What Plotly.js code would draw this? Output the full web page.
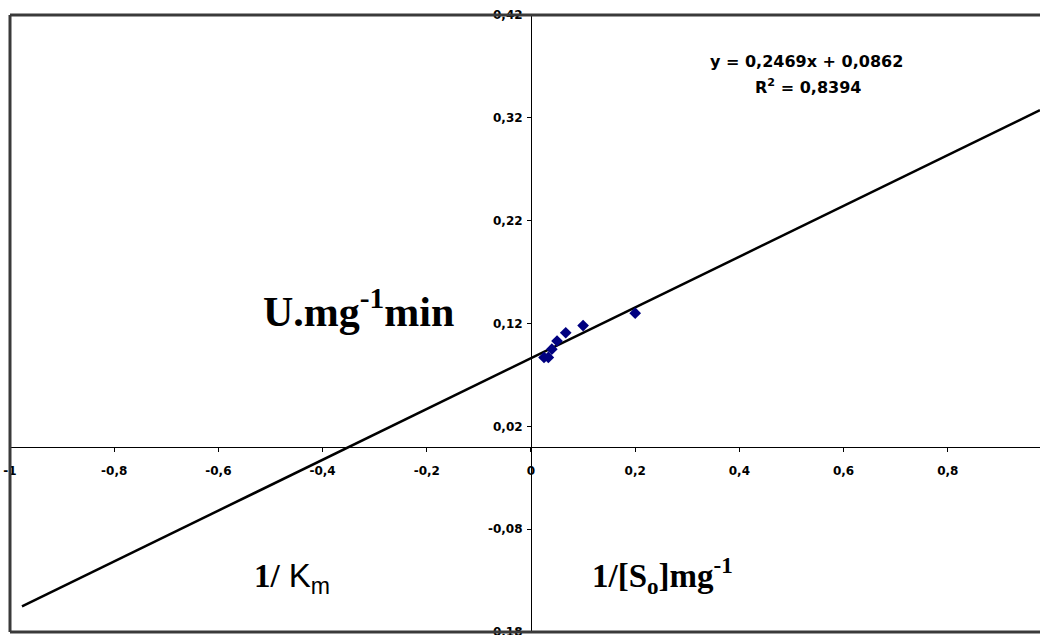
<!DOCTYPE html>
<html>
<head>
<meta charset="utf-8">
<script src="https://cdn.plot.ly/plotly-3.0.1.min.js"></script>
<style>html,body{margin:0;padding:0;background:#fff;}#chart{width:1040px;height:635px;}</style>
</head>
<body>
<div id="chart"></div>
<script>
// Data (Lineweaver-Burk plot)
const invS = [0.025, 0.0333, 0.04, 0.05, 0.0667, 0.1, 0.2];
const invV = [0.087, 0.087, 0.095, 0.103, 0.111, 0.118, 0.130];
// Trendline as reported: y = 0,2469x + 0,0862
const slope = 0.2469;
const intercept = 0.0862;
const trendX = [-0.977, 0.977];
const xTickVals = [-1, -0.8, -0.6, -0.4, -0.2, 0, 0.2, 0.4, 0.6, 0.8];
const xTickText = ['-1', '-0,8', '-0,6', '-0,4', '-0,2', '0', '0,2', '0,4', '0,6', '0,8'];
const yTickVals = [-0.18, -0.08, 0.02, 0.12, 0.22, 0.32, 0.42];
const yTickText = ['-0,18', '-0,08', '0,02', '0,12', '0,22', '0,32', '0,42'];

const xRange = [-1, 0.977];
const yRange = [-0.18, 0.42];

const trendY = trendX.map(x => slope * x + intercept);

const tickFont = {family: 'DejaVu Sans', size: 12, color: '#000', weight: 'bold'};

const data = [
  {x: trendX, y: trendY, mode: 'lines', line: {color: '#000', width: 2.5}, hoverinfo: 'skip', cliponaxis: true},
  {x: invS, y: invV, mode: 'markers', marker: {symbol: 'diamond', size: 9, color: '#000080'}}
];

const layout = {
  width: 1040, height: 635,
  margin: {l: 10, r: 0, t: 15, b: 3, pad: 0},
  paper_bgcolor: '#fff', plot_bgcolor: '#fff',
  showlegend: false,
  separators: ',.',
  xaxis: {
    range: xRange, anchor: 'free', position: (0 - yRange[0]) / (yRange[1] - yRange[0]),
    showgrid: false, zeroline: false, showline: true, linecolor: '#000', linewidth: 1,
    tickmode: 'array', tickvals: xTickVals, ticktext: xTickText,
    ticks: 'outside', ticklen: 4, tickcolor: '#000', tickwidth: 1,
    tickfont: tickFont, ticklabeloverflow: 'allow', ticklabelstandoff: 9
  },
  yaxis: {
    range: yRange, anchor: 'free', position: (0 - xRange[0]) / (xRange[1] - xRange[0]),
    showgrid: false, zeroline: false, showline: true, linecolor: '#000', linewidth: 1,
    tickmode: 'array', tickvals: yTickVals, ticktext: yTickText,
    ticks: 'outside', ticklen: 4, tickcolor: '#000', tickwidth: 1,
    tickfont: tickFont, ticklabeloverflow: 'allow', ticklabelstandoff: 2
  },
  shapes: [
    {type: 'line', xref: 'paper', yref: 'paper', x0: 0, x1: 1.01, y0: 1, y1: 1, line: {color: '#3a3a3a', width: 3}},
    {type: 'line', xref: 'paper', yref: 'paper', x0: 0, x1: 1.01, y0: 0, y1: 0, line: {color: '#3a3a3a', width: 3}},
    {type: 'line', xref: 'paper', yref: 'paper', x0: 0, x1: 0, y0: 0, y1: 1, line: {color: '#3a3a3a', width: 3}}
  ],
  annotations: [
    {x: 0.528, y: 0.375, xref: 'x', yref: 'y', text: 'y = 0,2469x + 0,0862', showarrow: false,
     font: {family: 'DejaVu Sans', size: 16, color: '#000', weight: 'bold'}},
    {x: 0.532, y: 0.350, xref: 'x', yref: 'y', text: 'R<sup>2</sup> = 0,8394', showarrow: false,
     font: {family: 'DejaVu Sans', size: 16, color: '#000', weight: 'bold'}},
    {x: -0.332, y: 0.135, xref: 'x', yref: 'y', text: 'U.mg<sup>-1</sup>min', showarrow: false,
     font: {family: 'Liberation Serif', size: 42, color: '#000', weight: 'bold'}},
    {x: -0.459, y: -0.127, xref: 'x', yref: 'y', text: '1/<span style="font-family:Liberation Sans;font-weight:normal"> K<sub>m</sub></span>', showarrow: false,
     font: {family: 'Liberation Serif', size: 33, color: '#000', weight: 'bold'}},
    {x: 0.253, y: -0.125, xref: 'x', yref: 'y', text: '1/[S<sub>o</sub>]mg<sup>-1</sup>', showarrow: false,
     font: {family: 'Liberation Serif', size: 33, color: '#000', weight: 'bold'}}
  ]
};

Plotly.newPlot('chart', data, layout, {displayModeBar: false, staticPlot: true});
</script>
</body>
</html>
